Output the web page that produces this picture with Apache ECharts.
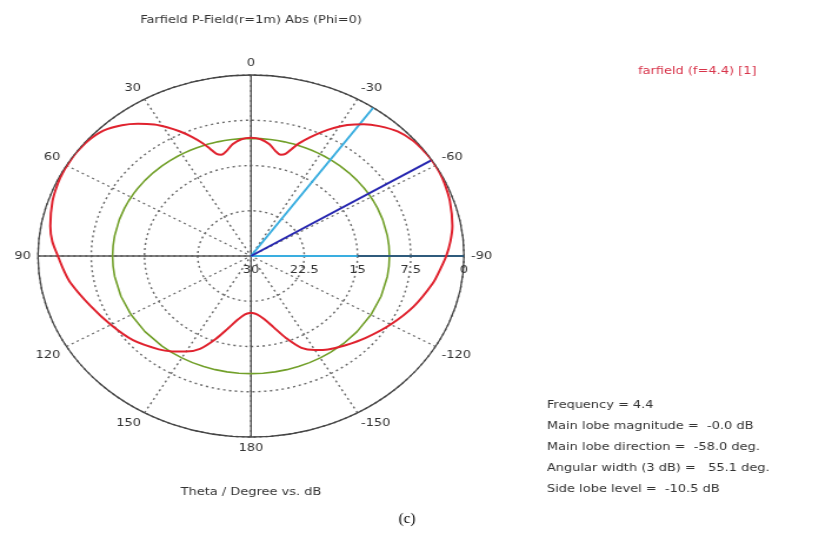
<!DOCTYPE html>
<html><head><meta charset="utf-8">
<script src="https://cdn.jsdelivr.net/npm/echarts/dist/echarts.min.js"></script>
<style>
html,body{margin:0;padding:0;background:#fff;overflow:hidden}
#wrap{position:absolute;left:0;top:0;width:815px;height:552px;overflow:hidden;background:#fff}
#c{position:absolute;left:0;top:0;width:693px;height:552px;transform-origin:0 0}
</style></head>
<body><div id="wrap"><div id="c"></div></div>
<script>
// ---- data ----
const thetaDeg = [-180,-175,-170,-165,-160,-155,-150,-145,-138,-130,-120,-110,-100,-95,-90,-85,-80,-72,-66,-62,-58,-55,-50,-45,-40,-36,-32,-29,-26,-23,-20,-18,-16,-14,-11,-8,-4,0,4,8,11,14,16,18,20,23,26,29,32,36,40,45,50,55,58,62,66,72,80,85,90,95,100,110,120,130,140,145,150,155,160,165,170,175,180];
const gainDb = [-20.6,-20.3,-19.4,-17.8,-15.5,-13.2,-12.0,-11.1,-10.1,-8.9,-7.3,-5.6,-4.0,-3.3,-2.5,-1.8,-1.2,-0.55,-0.2,-0.05,0.0,-0.05,-0.25,-0.8,-1.9,-3.0,-4.4,-5.7,-7.1,-8.6,-10.1,-11.3,-12.4,-12.7,-12.2,-11.3,-10.6,-10.4,-10.6,-11.3,-12.2,-12.7,-12.4,-11.3,-10.1,-8.5,-7.0,-5.6,-4.3,-2.9,-1.7,-0.6,-0.15,-0.02,-0.05,-0.1,-0.25,-0.6,-1.3,-1.9,-2.8,-3.5,-4.2,-5.9,-7.2,-8.3,-9.8,-10.7,-11.7,-13.0,-15.3,-17.6,-19.3,-20.3,-20.6];
const sideLobeLevel = -10.5;      // dB (green circle)
const mainLobeDir = -58;          // deg (dark blue line)
const beamEdges = [-35, -90];     // deg, -3 dB directions (light blue lines)
const radiusMin = -30, radiusMax = 0, radiusStep = 7.5;
const angleStep = 30;
const titleText = 'Farfield P-Field(r=1m) Abs (Phi=0)';
const legendText = 'farfield (f=4.4) [1]';
const axisTitle = 'Theta / Degree vs. dB';
const infoLines = ['Frequency = 4.4','Main lobe magnitude =  -0.0 dB','Main lobe direction =  -58.0 deg.','Angular width (3 dB) =   55.1 deg.','Side lobe level =  -10.5 dB'];
const captionText = '(c)';

// ---- layout ----
const K = 213/181;                      // horizontal stretch of the original picture
document.getElementById('c').style.transform = 'scaleX(' + K + ')';
const CX = 251 / K, CY = 256, R = 181;
const FONT = '"DejaVu Sans", Verdana, sans-serif';
const toAxisAngle = t => (t < -90 ? t + 360 : t);

const chart = echarts.init(document.getElementById('c'), null, {renderer: 'canvas'});

function ray(angle, r0, r1) { return [[r0, toAxisAngle(angle)], [r1, toAxisAngle(angle)]]; }
function lineSeries(data, color, width, z, extra) {
  return Object.assign({type: 'line', coordinateSystem: 'polar', data: data, symbol: 'none', silent: true,
    lineStyle: {color: color, width: width}, z: z, animation: false}, extra || {});
}

const series = [];
series.push(lineSeries(thetaDeg.map(t => [sideLobeLevel, toAxisAngle(t)]), '#72a02a', 1.6, 3));
series.push(lineSeries([[radiusMax, 0], [radiusMin, 0], [radiusMax, 180]], '#4a4a4a', 1.3, 2));
series.push(lineSeries([[radiusMax, 90], [radiusMin, 90], [radiusMax, toAxisAngle(-90)]], '#5a5a5a', 1.3, 2));
beamEdges.forEach(e => series.push(lineSeries(ray(e, radiusMin, radiusMax), '#3aaee0', 2, 4)));
series.push(lineSeries(ray(-90, -15, radiusMax), '#2f5b7c', 2, 5));
series.push(lineSeries(ray(mainLobeDir, radiusMin, radiusMax), '#2727b0', 2, 5));
series.push(lineSeries(thetaDeg.map((t, i) => [gainDb[i], toAxisAngle(t)]), '#e0222e', 2, 10, {smooth: 0.3}));

const graphics = [];
graphics.push({type: 'text', x: CX, y: 20, style: {text: titleText, font: '11px ' + FONT, fill: '#333', align: 'center', verticalAlign: 'middle'}});
graphics.push({type: 'text', x: 638 / K, y: 71, style: {text: legendText, font: '11px ' + FONT, fill: '#d8344a', align: 'left', verticalAlign: 'middle'}});
graphics.push({type: 'text', x: CX, y: 492, style: {text: axisTitle, font: '11px ' + FONT, fill: '#333', align: 'center', verticalAlign: 'middle'}});
infoLines.forEach((s, i) => graphics.push({type: 'text', x: 547 / K, y: 405 + i * 21, style: {text: s, font: '11px ' + FONT, fill: '#333', align: 'left', verticalAlign: 'middle'}}));
graphics.push({type: 'text', x: 407 / K, y: 519, scaleX: 1 / K, style: {text: captionText, font: '15px "Liberation Serif", "Times New Roman", serif', fill: '#000', align: 'center', verticalAlign: 'middle'}});

chart.setOption({
  animation: false,
  backgroundColor: '#fff',
  polar: {center: [CX, CY], radius: R},
  angleAxis: {
    type: 'value', min: -90, max: 270, interval: angleStep, startAngle: 0, clockwise: false,
    axisLine: {show: true, lineStyle: {color: '#444', width: 1.3}},
    axisTick: {show: false},
    axisLabel: {show: true, margin: 6, color: '#333', fontSize: 11, fontFamily: FONT,
      formatter: v => { let a = v > 180 ? v - 360 : v; return String(a); }},
    splitLine: {show: true, lineStyle: {color: '#6a6a6a', type: [2, 3], width: 1.4}}
  },
  radiusAxis: {
    type: 'value', min: radiusMin, max: radiusMax, interval: radiusStep,
    axisLine: {show: false}, axisTick: {show: false},
    axisLabel: {show: true, color: '#333', fontSize: 11, fontFamily: FONT, margin: -9, verticalAlign: 'top',
      formatter: v => String(Math.abs(v))},
    splitLine: {show: true, lineStyle: {color: '#6a6a6a', type: [2, 3], width: 1.4}}
  },
  graphic: graphics,
  series: series
});
</script>
</body></html>
